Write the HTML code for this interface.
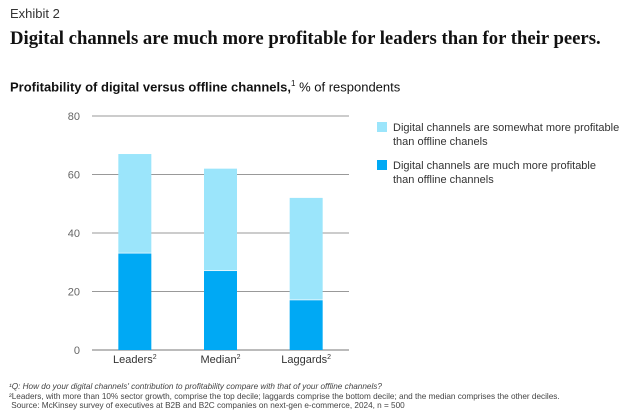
<!DOCTYPE html>
<html><head><meta charset="utf-8"><style>
body{margin:0;width:634px;height:419px;background:#fff;font-family:"Liberation Sans",sans-serif;color:#222;position:relative;overflow:hidden}
.t{position:absolute;white-space:nowrap}
</style></head><body>
<div class="t" style="left:10px;top:6px;font-size:13px;color:#333">Exhibit 2</div>
<div class="t" style="left:10px;top:28px;font-family:'Liberation Serif',serif;font-size:18.7px;font-weight:bold;color:#111">Digital channels are much more profitable for leaders than for their peers.</div>
<div class="t" style="left:10px;top:79px;font-size:13px;color:#111"><b>Profitability of digital versus offline channels,</b><sup style="font-size:8px">1</sup> % of respondents</div>
<svg id="chart" width="634" height="419" style="position:absolute;left:0;top:0"></svg>
<div>
<div style="position:absolute;left:377px;top:122px;width:10px;height:10px;background:#9be5fb"></div>
<div class="t" style="left:393px;top:121px;font-size:11px;line-height:14px;color:#333">Digital channels are somewhat more profitable<br>than offline chanels</div>
<div style="position:absolute;left:377px;top:160px;width:10px;height:10px;background:#00a9f4"></div>
<div class="t" style="left:393px;top:159px;font-size:11px;line-height:14px;color:#333">Digital channels are much more profitable<br>than offline channels</div>
</div>
<div class="t" style="left:9px;top:382px;font-size:8.2px;line-height:9.5px;color:#444"><i>¹Q: How do your digital channels' contribution to profitability compare with that of your offline channels?</i><br>²Leaders, with more than 10% sector growth, comprise the top decile; laggards comprise the bottom decile; and the median comprises the other deciles.<br>&nbsp;Source: McKinsey survey of executives at B2B and B2C companies on next-gen e-commerce, 2024, n = 500</div>
<script>
const categories=["Leaders","Median","Laggards"];
const muchValues=[33,27,17];
const somewhatValues=[34,35,35];
const yTicks=[0,20,40,60,80];
const svg=document.getElementById('chart');
const NS='http://www.w3.org/2000/svg';
const x0=92,x1=349,yBase=350,yTop=116,yMax=80;
const y=v=>yBase-(v/yMax)*(yBase-yTop);
const band=(x1-x0)/categories.length;
const bw=33;
function mk(tag,attrs){const e=document.createElementNS(NS,tag);for(const k in attrs)e.setAttribute(k,attrs[k]);svg.appendChild(e);return e;}
yTicks.forEach(t=>{
 const l=mk('line',{x1:x0,x2:x1,y1:y(t),y2:y(t),stroke:'#777','stroke-width':t===0?1:0.8});
 
 
 const tx=mk('text',{x:80,y:y(t)+4,'text-anchor':'end','font-size':11,fill:'#666','font-family':'Liberation Sans'});
 tx.textContent=t;
 
 
});
categories.forEach((c,i)=>{
 const bx=x0+band*(i+0.5)-bw/2;
 const m=muchValues[i],s=somewhatValues[i];
 const r1=mk('rect',{x:bx,y:y(m),width:bw,height:yBase-y(m),fill:'#00a9f4'});
 
 
 const r2=mk('rect',{x:bx,y:y(m+s),width:bw,height:y(m)-y(m+s)-0.7,fill:'#9be5fb'});
 
 
 const tx=mk('text',{x:x0+band*(i+0.5),y:363,'text-anchor':'middle','font-size':11,fill:'#333','font-family':'Liberation Sans'});
 tx.innerHTML=c+'<tspan font-size="7" dy="-4">2</tspan>';
 
 
});
</script>
</body></html>
